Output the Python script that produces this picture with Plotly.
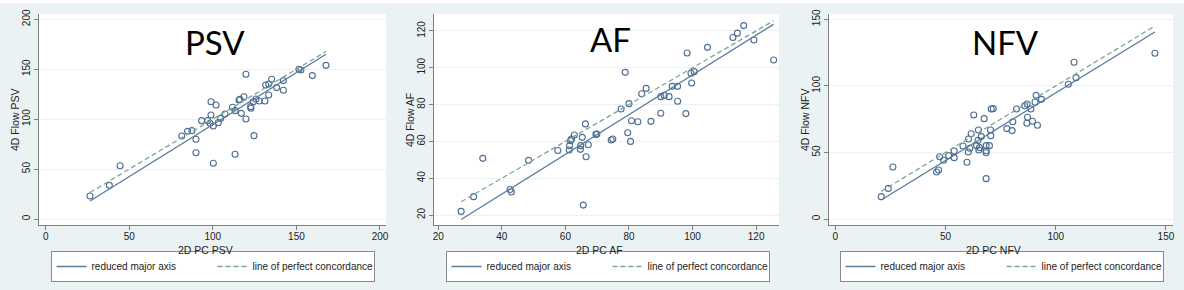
import plotly.graph_objects as go

# ---------------- data ----------------
psv_x = [26.5, 38.1, 44.5, 81.4, 84.9, 87.5, 89.9, 89.9, 93.3, 96.9, 98.9, 98.9, 98.3, 100.3,
         101.9, 100.3, 103.3, 104.7, 107.3, 111.7, 113.3, 113.3, 115.7, 116.2, 117.0, 118.6,
         119.8, 119.8, 122.6, 122.8, 124.2, 124.6, 125.8, 127.8, 131.2, 131.6, 133.4, 133.4,
         135.2, 138.2, 142.2, 142.2, 151.5, 152.7, 159.5, 167.7]
psv_y = [23.0, 33.7, 53.4, 83.1, 87.8, 88.5, 79.8, 66.4, 98.5, 98.5, 117.5, 104.2, 95.8, 93.2,
         114.2, 55.8, 96.5, 100.8, 105.2, 111.9, 108.5, 64.8, 119.2, 119.8, 105.8, 122.5,
         144.9, 100.2, 112.5, 110.9, 117.5, 83.5, 120.2, 118.2, 118.2, 134.2, 135.2, 124.2,
         139.9, 131.6, 138.6, 128.9, 149.9, 149.2, 143.6, 153.9]
psv_rma = [1.0405, -9.57]   # slope, intercept

af_x = [27.2, 31.1, 34.0, 42.6, 43.0, 48.4, 57.6, 61.2, 61.3, 61.6, 61.9, 62.8, 64.7, 64.8,
        65.3, 65.6, 66.3, 66.5, 67.2, 69.6, 69.9, 74.4, 74.9, 77.5, 78.8, 79.6, 80.0, 80.5,
        80.8, 82.8, 84.0, 85.4, 86.9, 90.0, 90.0, 91.1, 92.6, 93.6, 95.3, 95.3, 97.9, 98.3,
        99.5, 99.7, 100.5, 104.7, 112.7, 114.1, 116.1, 119.3, 125.5]
af_y = [22.0, 30.0, 50.8, 33.9, 32.5, 49.7, 55.1, 55.3, 57.7, 60.4, 61.3, 63.5, 55.7, 57.7,
        62.2, 25.4, 69.5, 51.7, 58.2, 63.8, 64.0, 60.8, 61.3, 77.6, 97.5, 64.7, 80.5, 60.0,
        71.2, 70.7, 85.9, 88.8, 70.9, 75.3, 84.3, 85.0, 84.3, 89.9, 89.9, 81.8, 75.1, 108.0,
        97.0, 91.7, 97.9, 111.1, 116.4, 118.8, 122.9, 115.1, 104.2]
af_rma = [1.078, -11.7]

nfv_x = [20.8, 24.0, 26.1, 45.9, 46.8, 47.3, 49.1, 51.4, 53.9, 53.9, 57.9, 59.7, 60.3, 60.4,
         61.0, 61.6, 62.8, 64.1, 64.7, 64.9, 65.1, 65.4, 66.2, 67.5, 68.4, 68.4, 68.4, 68.4,
         69.9, 70.4, 70.5, 70.7, 71.6, 77.8, 80.2, 80.5, 82.2, 85.9, 87.0, 86.9, 87.2, 88.7,
         89.4, 90.6, 91.1, 91.7, 93.5, 105.7, 108.3, 109.2, 145.0]
nfv_y = [16.8, 23.0, 39.1, 35.3, 36.8, 46.8, 44.1, 47.6, 51.1, 46.1, 54.8, 42.6, 50.3, 60.1,
         53.1, 64.1, 78.1, 55.1, 59.1, 66.9, 51.8, 53.6, 61.9, 75.4, 55.1, 51.3, 49.8, 30.3,
         55.1, 66.9, 62.6, 82.6, 82.9, 67.9, 66.4, 73.1, 82.6, 85.1, 86.4, 71.9, 76.4, 82.6,
         73.4, 87.7, 92.9, 70.4, 89.9, 101.2, 117.7, 106.2, 124.5]
nfv_rma = [1.016, -6.8]

titles = ["PSV", "AF", "NFV"]
x_titles = ["2D PC PSV", "2D PC AF", "2D PC NFV"]
y_titles = ["4D Flow PSV", "4D Flow AF", "4D Flow NFV"]
x_ticks = [[0, 50, 100, 150, 200], [20, 40, 60, 80, 100, 120], [0, 50, 100, 150]]
y_ticks = [[0, 50, 100, 150, 200], [20, 40, 60, 80, 100, 120], [0, 50, 100, 150]]
legend_labels = ["reduced major axis", "line of perfect concordance"]

# ---------------- layout / style ----------------
W, H = 1184, 290
BG = "#eaf2f3"
MARK = "#4d6e90"
RMA_C = "#5a7b9c"
CONC_C = "#7aa696"
AXIS_C = "#7f7f7f"
FONT = "Liberation Sans, Arial, sans-serif"

xr = [[-4.0, 203.6], [18.65, 127.2], [-2.9, 153.2]]
yr = [[-6.0, 205.3], [14.6, 129.2], [-4.5, 154.0]]
left_px = [39, 434, 829]
right_px = [386, 779, 1173]
top_px, bot_px = 14, 225
title_cx = [215, 610, 1005]
title_cy = [39, 36, 39]
ytitle_cx = [15, 410, 805]
legend_cx = [212.5, 607.5, 1001.5]

data = [(psv_x, psv_y, psv_rma), (af_x, af_y, af_rma), (nfv_x, nfv_y, nfv_rma)]

fig = go.Figure()
annotations = []
layout = dict(
    width=W, height=H,
    margin=dict(l=0, r=0, t=0, b=0),
    paper_bgcolor=BG, plot_bgcolor="white",
    font=dict(family=FONT, size=10, color="#222222"),
    showlegend=True,
)

for i, (xs, ys, rma) in enumerate(data):
    n = "" if i == 0 else str(i + 1)
    xa, ya = "x" + n, "y" + n
    lg = "legend" + n
    x0, x1 = min(xs), max(xs)
    fig.add_trace(go.Scatter(
        x=xs, y=ys, mode="markers", xaxis=xa, yaxis=ya, showlegend=False,
        marker=dict(symbol="circle-open", size=6, color=MARK, line=dict(width=1.1, color=MARK)),
        hoverinfo="x+y"))
    fig.add_trace(go.Scatter(
        x=[x0, x1], y=[rma[0] * x0 + rma[1], rma[0] * x1 + rma[1]], mode="lines",
        xaxis=xa, yaxis=ya, name=legend_labels[0], legend=lg,
        line=dict(color=RMA_C, width=1.3)))
    fig.add_trace(go.Scatter(
        x=[x0, x1], y=[x0, x1], mode="lines",
        xaxis=xa, yaxis=ya, name=legend_labels[1], legend=lg,
        line=dict(color=CONC_C, width=1.3, dash="5px,3px")))

    axcommon = dict(showline=True, linecolor=AXIS_C, linewidth=1, ticks="outside",
                    ticklen=4, tickcolor=AXIS_C, tickwidth=1, zeroline=False,
                    automargin=False, tickfont=dict(size=10, color="#222222"))
    layout["xaxis" + n] = dict(
        domain=[left_px[i] / W, right_px[i] / W], range=xr[i], tickvals=x_ticks[i],
        showgrid=False, anchor=ya, ticklabelstandoff=-2, **axcommon)
    layout["yaxis" + n] = dict(
        domain=[(H - bot_px) / H, (H - top_px) / H], range=yr[i], tickvals=y_ticks[i],
        showgrid=True, gridcolor=BG, gridwidth=1, tickangle=-90, anchor=xa,
        **axcommon)
    layout[lg] = dict(
        orientation="h", x=legend_cx[i] / W, y=(H - 266.5) / H,
        xanchor="center", yanchor="middle", bgcolor="white", bordercolor="#8a8a8a",
        borderwidth=1, font=dict(size=10, color="#222222"), itemwidth=30,
        entrywidth=116, tracegroupgap=0)
    annotations.append(dict(
        text=titles[i], x=title_cx[i] / W, y=(H - title_cy[i] - 3) / H,
        xref="paper", yref="paper", showarrow=False, xanchor="center", yanchor="middle",
        font=dict(family="Lato, Open Sans, sans-serif", size=33, color="black")))
    annotations.append(dict(
        text=x_titles[i], x=(left_px[i] + right_px[i]) / 2 / W - 0.006, y=(H - 250) / H,
        xref="paper", yref="paper", showarrow=False, xanchor="center", yanchor="middle",
        font=dict(size=10.5, color="#222222")))
    annotations.append(dict(
        text=y_titles[i], x=ytitle_cx[i] / W, y=(H - 120) / H, textangle=-90,
        xref="paper", yref="paper", showarrow=False, xanchor="center", yanchor="middle",
        font=dict(size=10.5, color="#222222")))

layout["annotations"] = annotations
layout["shapes"] = [dict(type="rect", xref="paper", yref="paper", x0=0, x1=1,
                         y0=(H - 3) / H, y1=1, fillcolor="white", line=dict(width=0),
                         layer="below")]
fig.update_layout(**layout)
fig.write_html(
    "out.html",
    config={"displayModeBar": False},
    post_script="document.body.style.margin='0';document.body.style.padding='0';"
                "document.body.style.overflow='hidden';",
)
